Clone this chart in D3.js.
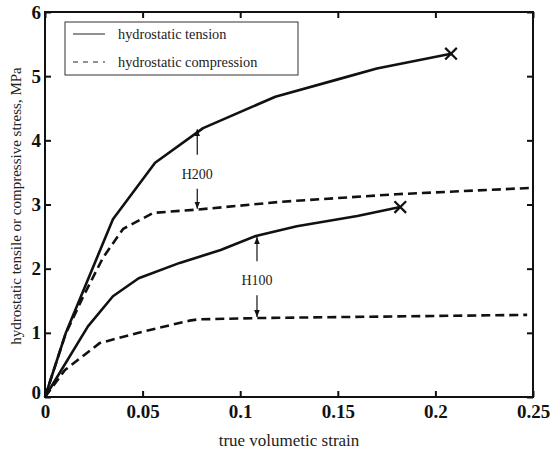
<!DOCTYPE html>
<html><head><meta charset="utf-8">
<script src="https://cdn.jsdelivr.net/npm/d3@7"></script>
<style>body{margin:0;background:#fff}svg{display:block}</style>
</head><body><svg id="c" width="550" height="450"></svg>
<script>
const xTicks = [0, 0.05, 0.1, 0.15, 0.2, 0.25];
const xTickLabels = ["0", "0.05", "0.1", "0.15", "0.2", "0.25"];
const yTicks = [0, 1, 2, 3, 4, 5, 6];
const h200Tension = [[0,0],[0.0108,1.01],[0.0348,2.77],[0.0564,3.65],[0.081,4.19],[0.118,4.68],[0.150,4.95],[0.170,5.12],[0.208,5.35]];
const h200Compression = [[0,0],[0.0105,0.98],[0.0195,1.56],[0.0297,2.17],[0.040,2.62],[0.0487,2.76],[0.0555,2.87],[0.078,2.92],[0.120,3.04],[0.180,3.16],[0.25,3.26]];
const h100Tension = [[0,0],[0.022,1.10],[0.0348,1.57],[0.048,1.85],[0.069,2.09],[0.090,2.29],[0.108,2.51],[0.129,2.66],[0.160,2.82],[0.182,2.96]];
const h100Compression = [[0,0],[0.0102,0.42],[0.028,0.84],[0.049,1.01],[0.074,1.19],[0.0786,1.21],[0.1086,1.23],[0.247,1.28]];
const legendLabels = ["hydrostatic tension", "hydrostatic compression"];
const annotations = [{label:"H200", x:0.078, yUp:4.19, yDown:2.92, yText:3.48},
                     {label:"H100", x:0.1086, yUp:2.51, yDown:1.23, yText:1.82}];

const svg = d3.select("#c");
const L=45, R=533, T=12, B=397;
const x = d3.scaleLinear().domain([0,0.25]).range([L,R]);
const y = d3.scaleLinear().domain([0,6]).range([B,T]);
const serif = "'Liberation Serif','Times New Roman',serif";

// box
svg.append("rect").attr("x",L).attr("y",T).attr("width",R-L).attr("height",B-T)
  .attr("fill","none").attr("stroke","#111").attr("stroke-width",2);

// axes
const gx = svg.append("g").attr("transform",`translate(0,${B})`)
  .call(d3.axisBottom(x).tickValues(xTicks).tickFormat((d,i)=>xTickLabels[i]).tickSizeInner(-6).tickSizeOuter(0).tickPadding(11));
const gxt = svg.append("g").attr("transform",`translate(0,${T})`)
  .call(d3.axisTop(x).tickValues(xTicks).tickFormat("").tickSizeInner(-6).tickSizeOuter(0));
const gy = svg.append("g").attr("transform",`translate(${L},0)`)
  .call(d3.axisLeft(y).tickValues(yTicks).tickFormat(d3.format("d")).tickSizeInner(-6).tickSizeOuter(0).tickPadding(4));
const gyr = svg.append("g").attr("transform",`translate(${R},0)`)
  .call(d3.axisRight(y).tickValues(yTicks).tickFormat("").tickSizeInner(-6).tickSizeOuter(0));
[gx,gxt,gy,gyr].forEach(g=>{
  g.select(".domain").remove();
  g.selectAll(".tick line").attr("stroke","#111").attr("stroke-width",2);
  g.selectAll("text").attr("font-family",serif).attr("font-weight","bold").attr("font-size",19).attr("fill","#111");
});
gx.selectAll("text").attr("dy","0.55em");
gy.selectAll("text").filter(d=>d===0).attr("dy","0.1em");

// axis titles
svg.append("text").attr("x",(L+R)/2).attr("y",446).attr("text-anchor","middle")
  .attr("font-family",serif).attr("font-size",17).attr("fill","#222").text("true volumetic strain");
svg.append("text").attr("transform",`translate(21,206) rotate(-90)`).attr("text-anchor","middle")
  .attr("font-family",serif).attr("font-size",15).attr("fill","#222").text("hydrostatic tensile or compressive stress, MPa");

// curves
const line = d3.line().x(d=>x(d[0])).y(d=>y(d[1]));
function curve(data, dashed){
  svg.append("path").datum(data).attr("d",line).attr("fill","none").attr("stroke","#111")
    .attr("stroke-width",2.6).attr("stroke-linejoin","round")
    .attr("stroke-dasharray", dashed ? "9,5" : null);
}
curve(h200Tension,false); curve(h100Tension,false);
curve(h200Compression,true); curve(h100Compression,true);

// X markers at failure
[h200Tension, h100Tension].forEach(s=>{
  const p = s[s.length-1];
  svg.append("path").attr("d",d3.symbol(d3.symbolX,90)())
    .attr("transform",`translate(${x(p[0])},${y(p[1])})`).attr("fill","none")
    .attr("stroke","#111").attr("stroke-width",2.2);
});

// annotations
svg.append("defs").append("marker").attr("id","ah").attr("viewBox","0 0 10 10")
  .attr("refX",10).attr("refY",5).attr("markerWidth",7).attr("markerHeight",7).attr("orient","auto")
  .attr("markerUnits","userSpaceOnUse")
  .append("path").attr("d","M0,1 L10,5 L0,9 Z").attr("fill","#111");
annotations.forEach(a=>{
  const ax = x(a.x), ty = y(a.yText);
  svg.append("line").attr("x1",ax).attr("x2",ax).attr("y1",ty-19).attr("y2",y(a.yUp)+1)
    .attr("stroke","#111").attr("stroke-width",1.2).attr("marker-end","url(#ah)");
  svg.append("line").attr("x1",ax).attr("x2",ax).attr("y1",ty+15).attr("y2",y(a.yDown)-1)
    .attr("stroke","#111").attr("stroke-width",1.2).attr("marker-end","url(#ah)");
  svg.append("text").attr("x",ax).attr("y",ty+5).attr("text-anchor","middle")
    .attr("font-family",serif).attr("font-size",14).attr("fill","#222").text(a.label);
});

// legend
const lg = svg.append("g");
lg.append("rect").attr("x",65).attr("y",22).attr("width",233).attr("height",53)
  .attr("fill","#fff").attr("stroke","#333").attr("stroke-width",1);
legendLabels.forEach((t,i)=>{
  const ly = 34 + i*28;
  lg.append("line").attr("x1",73).attr("x2",105).attr("y1",ly).attr("y2",ly)
    .attr("stroke","#222").attr("stroke-width",1).attr("stroke-dasharray", i===1 ? "5,5" : null);
  lg.append("text").attr("x",118).attr("y",ly+4.5).attr("font-family",serif).attr("font-size",14.3)
    .attr("fill","#222").text(t);
});
</script></body></html>
